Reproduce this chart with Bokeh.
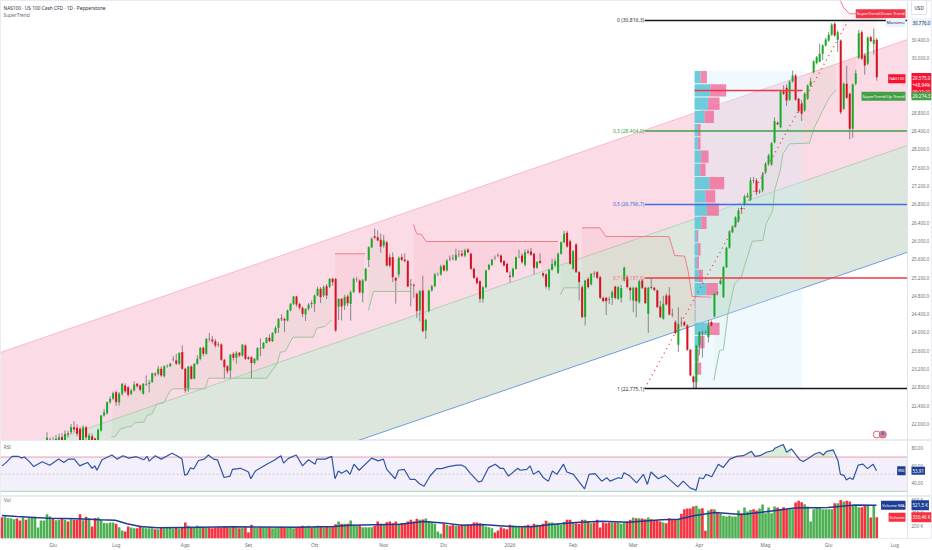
from bokeh.plotting import figure
from bokeh.layouts import column
from bokeh.models import Range1d, FixedTicker, Label, Span
from bokeh.embed import file_html
from bokeh.resources import INLINE
from bokeh.core.properties import value

FONT = "Noto Sans"
candle_start = 15
opens = [
21640,21600,21650,21568,21600,21712,21640,21790,21820,21930,
21915,21895,21640,21930,21640,21730,21680,21600,21858,22185,
22236,22477,22550,22695,22477,22659,22840,22800,22659,22732,
22877,22840,22659,22860,22875,22914,23100,23096,23205,23045,
23260,23263,23400,23387,23314,23570,23205,22746,23256,22990,
23314,23424,23664,23533,23860,23846,23810,23740,23737,23402,
23263,23169,23533,23445,23555,23497,23715,23460,23460,23330,
23402,23660,23655,23773,23882,23810,23990,24100,24310,24297,
24261,24480,24625,24786,24625,24540,24394,24516,24640,24625,
24807,24953,
24807,25010,25000,25170,25170,24565,24735,24590,
24786,24625,24880,25160,25135,24860,25135,25586,25863,26100,
26082,26023,25900,25973,25645,25645,25193,25266,25645,25590,
25560,25050,25040,24844,24480,24917,24043,24465,24917,25010,
25266,25270,25463,25354,25610,25620,25586,25700,25718,25680,
25812,25718,25390,25193,25120,24735,24989,25380,25477,25630,
25680,25680,25560,25499,25240,25222,25390,25645,25680,25480,
25770,25770,25718,25412,25560,25295,25266,24989,25368,25463,
25303,25718,25973,26177,25995,25390,25922,25317,24989,24334,
25170,25050,25290,25317,25208,24756,24756,24720,24756,25004,
24735,
24756,25135,25208,24975,24698,24975,24660,25135,24975,24407,
24990,24975,24917,24567,24300,24807,24807,24394,24225,23730,
24188,24225,24152,23620,23037,22914,23715,24010,24006,23897,
24225,24349,24870,25062,24770,25426,25849,26191,26315,26430,
26720,26796,26950,26898,27320,27320,27065,27100,27500,27684,
27670,28158,28580,28486,29272,29345,29082,29483,29614,29104,
28995,28850,29104,29396,29687,29890,29920,30088,30270,30380,
30503,30743,30393,30379,28886,29432,29214,28449,29432,30000,
30561,30052,29869,30452,30306,30394]
closes = [
21700,21660,21620,21675,21712,21600,21785,21770,21930,21880,
21785,21640,21930,21712,21750,21640,21600,21872,22185,22258,
22477,22550,22673,22477,22659,22877,22717,22640,22732,22863,
22826,22746,22877,22875,22900,23110,23075,23205,23060,23263,
23275,23314,23410,23314,23555,23205,22732,23256,22990,23314,
23424,23664,23533,23860,23850,23810,23715,23730,23402,23241,
23154,23510,23445,23555,23497,23730,23424,23424,23330,23424,
23657,23650,23773,23882,23810,23990,24100,24297,24290,24261,
24480,24625,24786,24610,24540,24407,24516,24610,24625,24807,
24953,24771,
24989,24807,25170,25100,24043,24735,24565,24771,
24640,24880,25170,25170,24880,25135,25390,25863,26045,26070,
26009,25878,26009,25463,25463,25208,25135,25630,25586,25560,
25004,25040,25020,24465,24902,24028,24275,24917,25010,25266,
25270,25441,25354,25572,25600,25610,25696,25690,25680,25791,
25754,25390,25193,25077,24735,24989,25354,25477,25586,25625,
25670,25536,25463,25317,25210,25390,25645,25650,25536,25750,
25740,25700,25412,25536,25520,25245,25004,25368,25499,25558,
25718,25973,26155,25878,25499,25776,25317,25100,24334,25135,
24989,25281,25280,25193,24756,24684,24684,24710,24880,24756,
24989,
24968,25412,24990,24920,24975,24683,25120,24975,24640,24975,
24970,24930,24553,24334,24625,24611,24392,24380,23985,24188,
24180,24152,23620,23060,22914,23715,24006,24000,24000,24152,
24152,24844,24860,25135,25426,25849,26213,26315,26512,26664,
26690,26971,26990,27320,27310,27065,27085,27451,27684,27866,
28136,28617,28550,29272,29214,29068,29483,29614,29082,28835,
28777,29214,29396,29483,29920,30015,30088,30270,30400,30503,
30722,30488,30561,28813,29432,29126,28449,29418,29665,30539,
29980,29833,30437,30364,30394,29575]
highs = [
21820,21700,21720,21760,21790,21800,21860,21850,22000,22060,
21990,21940,21970,21960,21800,21790,21700,21900,22200,22330,
22490,22600,22710,22730,22700,22895,22890,22830,22770,22930,
22900,22860,22895,23059,22960,23120,23130,23270,23260,23280,
23300,23340,23480,23530,23560,23720,23230,23270,23285,23330,
23500,23680,23690,23870,23990,23925,23860,23790,23760,23420,
23290,23530,23570,23590,23570,23750,23740,23480,23480,23440,
23680,23870,23790,23900,23960,24000,24140,24310,24400,24320,
24500,24640,24800,24800,24650,24570,24530,24640,24700,24830,
25000,24990,
25030,25060,25190,25200,25190,24745,24750,24820,
24830,24920,25200,25210,25160,25170,25410,25880,26080,26270,
26230,26160,26130,26000,25720,25750,25210,25660,25720,25730,
25590,25170,25070,24870,24930,25240,24300,24930,25040,25300,
25310,25480,25480,25600,25680,25700,25830,25800,25800,25830,
25840,25740,25410,25220,25140,25010,25370,25500,25610,25680,
25730,25710,25580,25520,25330,25420,25660,25810,25730,25810,
25820,25850,25740,25560,25730,25310,25290,25390,25610,25610,
25750,25990,26220,26220,26030,25800,25950,25340,25030,25150,
25210,25300,25340,25340,25240,24780,24780,24780,24920,25020,
25020,
25040,25440,25250,25000,25000,25000,25150,25170,25000,25000,
25180,25000,24940,24690,24800,24850,24990,24520,24270,24550,
24340,24250,24180,23640,23060,23720,24030,24040,24050,24270,
24260,24870,24900,25200,25450,25870,26230,26340,26540,26720,
26760,27010,27050,27390,27400,27370,27130,27510,27720,27900,
28160,28700,28610,29300,29400,29420,29510,29720,29650,29130,
29080,29250,29420,29570,29950,30040,30310,30300,30440,30560,
30760,30780,30600,30400,29460,29830,29240,29440,29740,30610,
30600,30100,30470,30480,30640,30430]
lows = [
21560,21500,21520,21500,21540,21540,21590,21700,21780,21820,
21730,21560,21540,21620,21600,21590,21540,21570,21830,22160,
22200,22440,22520,22400,22400,22620,22680,22600,22630,22710,
22790,22710,22640,22830,22690,22900,23040,23060,23030,23020,
23230,23250,23370,23290,23290,23180,22680,22700,22970,22980,
23290,23390,23480,23510,23800,23760,23670,23680,23380,22980,
23100,22990,23390,23320,23460,23470,23400,23400,22990,23300,
23380,23480,23640,23760,23790,23790,23970,23990,24250,24006,
24240,24460,24600,24560,24500,24340,24250,24480,24540,24450,
24790,24640,
24770,24730,24970,25020,24010,24270,24260,24490,
24570,24260,24860,25100,24850,24660,25110,25430,25840,26040,
25990,25740,25850,25440,25420,25100,24630,25200,25560,25530,
24990,24570,24750,24320,24240,24000,23860,24440,24890,24990,
25230,25240,25330,25330,25560,25570,25560,25640,25650,25640,
25730,25370,25170,25050,24650,24650,24960,25350,25450,25580,
25640,25510,25440,25300,25090,25190,25370,25620,25500,25440,
25710,25670,25270,25390,25500,25200,24960,24920,25350,25440,
25280,25700,25950,25850,25480,25370,25300,24700,24310,24150,
24960,25030,25200,25170,24730,24660,24380,24620,24600,24720,
24710,
24650,25110,24960,24700,24440,24330,24630,24950,24620,23990,
24940,24900,24530,24310,24280,24590,24370,24330,23960,23570,
24120,24130,23600,23040,22780,22775,23500,23450,23980,23780,
24130,24330,24820,25040,24750,25410,25830,26170,26290,26400,
26610,26770,26950,26870,27260,27000,27030,27060,27460,27650,
27640,28130,28530,28460,29190,28950,29060,29460,29060,28800,
28620,28820,29080,29370,29660,29860,29900,29950,30250,30350,
30480,30460,30130,28770,28860,29100,28220,28250,29400,29970,
29960,29630,29840,30340,30070,29500]

volumes = [
333,343,322,317,302,312,281,328,291,317,322,343,172,281,281,380,343,307,286,291,
312,291,265,302,291,291,380,286,338,317,187,322,328,291,244,239,250,250,229,177,
125,109,187,172,161,161,198,172,161,161,
161,146,146,172,161,177,172,156,166,156,172,250,198,182,172,198,182,172,166,172,
161,172,177,172,187,172,166,177,172,161,166,177,99,213,172,166,177,172,166,177,
161,166,172,182,172,166,172,161,172,182,
198,187,198,177,187,198,187,177,187,187,187,224,265,229,229,229,281,198,198,208,
177,177,177,177,198,265,229,213,255,265,239,265,229,239,229,265,291,265,307,291,
296,312,265,250,229,109,73,239,213,198,213,198,198,
213,213,213,213,250,250,239,218,187,177,161,94,125,177,156,146,213,208,198,198,
187,203,213,198,229,213,198,229,276,250,250,229,229,213,260,291,291,250,239,229,
291,291,265,239,250,291,172,250,239,250,250,250,250,229,250,265,291,328,317,317,
312,302,328,302,281,281,265,250,239,317,302,302,302,385,458,468,468,499,510,463,
473,120,437,458,458,406,385,354,343,354,343,343,437,395,484,421,447,458,437,468,
530,395,484,395,499,484,458,489,458,458,458,562,588,567,536,499,265,458,489,484,
458,458,458,458,551,551,603,577,588,577,510,510,489,489,515,515,328,515,330]
early_up = [0,1,1,1,1,0,0,1,0,1,1,1,1,1,1]

vol_ma_x = [0,5,10.6,16.1,25,32.8,37.7,41.6,46,51.6,60.4,77,99.2,110.3,115.8,132.4,140.2,146.8,
            153,159.6,169.6,176.3,181.8,190.7,199.5,208.4,219.4,225,230.5,237.2,246,252.7,263.7,274.8,283.7,290.9]
vol_ma_v = [359,343,328,317,307,291,286,229,187,166,172,182,177,187,208,224,265,244,
            208,218,187,182,213,250,270,255,291,302,359,406,374,411,478,484,525,521]

rsi_x = [0,1.2,3.4,5.6,6.4,7.5,8.9,10.6,13.4,15.9,18.9,20.6,22.2,24.1,25.9,27.2,28.5,30,30.9,31.6,
33.3,36.6,38.3,40.3,42.2,44.7,47.2,48.3,49,51,53,56.6,58.2,59.9,60.8,61.6,62.7,63.8,65.4,67.3,
68.7,70.4,71.7,73.9,75.9,76.7,79.3,80.9,82,82.8,84.3,88.1,90.3,92.8,93.7,95.3,97.9,100,102,104.2,
104.7,107.5,109.7,110.8,111.9,113,114.7,115.8,117.1,118.8,123,125.2,126.9,128,130.8,131.9,133.8,135.8,137.4,138.8,
140.4,142.4,144.6,146.3,148.5,151.3,153,154.1,155.8,158.5,159.6,161.9,164.1,165.7,166.8,168.5,171.6,172.4,174.6,175.7,
176.8,178.5,180.1,181.8,183.1,184.6,186.8,187.9,190.1,191.8,193.8,195.3,197.3,199.5,201.2,202.3,205,206.2,206.9,208.9,
211.1,213.4,214.7,215.9,218.3,220.6,224.8,226.6,228.9,230.9,232,233.3,234.2,236.1,238.3,239.9,242.1,244.4,246.6,247.7,
249.3,250.5,252.1,254.3,256.5,257.1,259.9,261,262.6,265.4,266.5,268.2,270.4,272,273.2,274.3,276.5,278.1,278.9,280.1,
280.9,282,283.1,284.8,286.4,287.9,289.8,290.9]
rsi_v = [59.7,62.9,70.8,70.8,68.8,70,65.6,58.9,64.5,60.5,67.6,63.7,67.6,67.6,59.7,61.7,63.7,56.9,59.7,54.6,
66.8,72.4,67.6,71.6,68.8,70.4,66.8,70.8,65.2,71.6,67.6,74.4,71.6,67.6,49,49.8,57.3,56.1,66,67.6,
72.4,67.6,66.8,46.2,47.8,55.7,56.9,54.6,52.6,44.7,53.8,61.7,65.6,71.6,62.9,68.4,72.4,59.7,66.8,61.7,
67.6,67.6,70.8,44.7,53.8,51,54.6,49.8,61.7,54.6,68.8,65.6,67.6,55.7,44.7,54.6,55.7,43.9,43.9,39.2,
36,47.9,56.5,56.5,58.9,60.5,60.5,58.5,51,41.1,41.9,57.7,61.7,56.9,56.9,47.8,56.9,54.6,55.7,59.7,
49.8,53.8,45.9,41.9,53.8,49.8,61.7,52.6,49.8,41.9,32.8,49.8,50.6,41.9,45.9,41.9,45.9,45.1,51.8,47.8,
39.9,49.8,38.1,52.6,44.7,48.6,35.2,41.9,34,31.3,45.9,44.7,49.8,47,61.7,57.7,67.6,70.8,71.6,73.6,
76.7,70.8,71.6,75.6,77.6,80.3,84.6,75.6,79.5,66.8,64.9,68.4,73.6,75.6,72.4,76.7,78.3,65.6,49.8,48.6,
43.2,45.9,43.9,60.5,61.7,56.5,61.7,53.9]

# SuperTrend, as breakpoints
st_up = [
 ([36.4,37.7,39.4,41.4,43,44.4,47.2,48.3,49.9,51.6,53.8,56,57.1,67.6,68.7,88.1,91.5,92.6,94.2,96.8,103.6,104.7,107.5,109.7],
  [21712,21727,21894,21930,21945,22033,22040,22185,22222,22440,22462,22732,22768,22768,23001,23001,23314,23569,23584,23897,23897,24094,24130,24276]),
 ([121.9,123.6,135.8],[24480,24895,24895]),
 ([185.8,186.9,192.2],[24829,24975,24975]),
 ([236.8,238.7,240,241.5,243.7,245.9,247.6,249.6,253.1,254.2,256.4,257,258.9,259.8,262,268.6,270.3,273,275.3,277.5],
  [22950,23606,23620,24407,25062,25208,25572,25994,26009,26373,26664,27102,27539,27903,28121,28136,28486,28850,29141,29301]),
]
st_down = [
 ([110.8,120.8],[25718,25718]),
 ([136.9,138,139.6,141.1,185],[26359,26155,26140,25987,25987]),
 ([192.9,198.9,200.9,221.9,223.8,227.1,228.2,229.6,236],[26286,26286,26096,26096,25681,25667,25354,24786,24771]),
 ([278.9,279.9,281.9,291],[31253,31107,30962,30962]),
]

fib_prices = [30816.3,28404.0,26796.7,25187.5,22775.1]
fib_labels = ["0 (30.816,3)","0,3 (28.404,0)","0,5 (26.796,7)","0,7 (25.187,5)","1 (22.775,1)"]
fib_colors = ["#131722","#43a047","#3f6fdc","#f23645","#131722"]
fib_text_colors = ["#333333","#43a047","#3f6fdc","#ee7a85","#333333"]

# volume profile rows, top to bottom
vp_up = [18,47,40,30,10,10,20,17,45,33,37,20,7,10,7,13,35,1,2,40,13,5,7,2]
vp_down = [19,48,35,28,8,8,22,16,44,29,36,16,4,8,6,12,35,2,1,35,17,8,13,5]

channel_x = [-0.465,301.2]
channel_upper = [23562,30401]
channel_mid = [21246,28085]
channel_lower = [18960,25753]

price_ticks = [22000,22400,22800,23200,23600,24000,24400,24800,25200,25600,26000,26400,26800,27200,27600,28000,28400,28800,29200,29600,30000,30400]
rsi_ticks = [40,60,80]
vol_ticks = [200,400,600]
month_pos = [17,38,61,82,104,127,147,169,190,210,232,254,275,297]
month_lab = ["Giu","Lug","Ago","Set","Ott","Nov","Dic","2026","Feb","Mar","Apr","Mag","Giu","Lug"]

assert len(opens)==len(closes)==len(highs)==len(lows)==277, (len(opens),len(closes),len(highs),len(lows))
assert len(volumes)==292, len(volumes)
assert len(rsi_x)==len(rsi_v), (len(rsi_x),len(rsi_v))

N = 292
GREEN="#16ab26"; RED="#d8101f"
xr = Range1d(-0.465,309.2)
AXIS_X = 301.2

def base(h, yr, bottom=0):
    f = figure(width=932,height=h,x_range=xr,y_range=yr,toolbar_location=None,output_backend="svg",
               y_axis_location="right",min_border=0,min_border_right=0,min_border_bottom=bottom,
               min_border_left=0,min_border_top=0)
    f.grid.visible=False
    f.outline_line_color="#e9ebf0"
    f.yaxis.axis_line_color=None
    f.yaxis.major_tick_line_color=None
    f.yaxis.minor_tick_line_color=None
    f.yaxis.major_tick_out=0
    f.yaxis.major_tick_in=0
    f.yaxis.minor_tick_out=0
    f.yaxis.minor_tick_in=0
    f.yaxis.major_label_text_font=FONT
    f.yaxis.major_label_text_font_size="4.5px"
    f.yaxis.major_label_text_color="#6a6d78"
    f.yaxis.major_label_standoff=-20
    f.add_layout(Span(location=AXIS_X,dimension="height",line_color="#e0e3eb",line_width=1))
    return f

def tag(f,x,y,text,bg,color="white",size="4.2px",border=None,pad=(1,2),align="left"):
    f.add_layout(Label(x=x,y=y,x_units="screen",y_units="data",text=text,text_font=FONT,
        text_font_size=size,text_color=color,text_baseline="middle",text_align=align,
        background_fill_color=bg,border_line_color=border,padding=pad))

# ---------- main pane
p = base(440,Range1d(21639,31253))
p.xaxis.visible=False
p.yaxis.ticker=FixedTicker(ticks=price_ticks)
p.yaxis.major_label_overrides={t:f"{t:,.1f}".replace(",","X").replace(".",",").replace("X",".") for t in price_ticks}

p.varea(channel_x,channel_mid,channel_upper,fill_color="#fbdbe5")
p.varea(channel_x,channel_lower,channel_mid,fill_color="#dde6dc")
p.line(channel_x,channel_upper,line_color="#f9b8cc",line_width=1)
p.line(channel_x,channel_mid,line_color="#bccbbc",line_width=1)
p.line(channel_x,channel_lower,line_color="#6f9de0",line_width=1)

def st_fill(seg,color):
    xs,ys=seg
    ids=[i for i in range(int(xs[0])+1,min(int(xs[-1]),291)+1)]
    px=list(xs)+[i for i in reversed(ids)]
    py=list(ys)+[closes[i-candle_start] for i in reversed(ids)]
    p.patch(px,py,fill_color=color,fill_alpha=0.05,line_color=None)
for s in st_up:
    st_fill(s,"#4caf50")
for s in st_down:
    st_fill(s,"#f23645")

# date-range box and volume profile
vx0=230.4; vx1=266.3; vtop=29723; vstep=(29723-22775)/24
p.quad(left=[vx0],right=[vx1],top=[vtop],bottom=[22775],fill_color="#c9eefb",fill_alpha=0.28,line_color=None)
vy=[vtop-(k+0.5)*vstep for k in range(24)]
vr1=[vx0+u/9.03 for u in vp_up]
vr2=[r+d/9.03 for r,d in zip(vr1,vp_down)]
p.hbar(y=vy,left=vx0,right=vr1,height=vstep*0.93,fill_color="#5cc8d8",fill_alpha=0.9,line_color=None)
p.hbar(y=vy,left=vr1,right=vr2,height=vstep*0.93,fill_color="#f06a9a",fill_alpha=0.8,line_color=None)

idx=list(range(candle_start,N))
up=[c>=o for o,c in zip(opens,closes)]
p.segment(idx,highs,idx,lows,line_color="#777777",line_alpha=0.85,line_width=1)
top=[max(o,c) for o,c in zip(opens,closes)]
bot=[min(o,c) for o,c in zip(opens,closes)]
p.vbar(x=idx,top=top,bottom=bot,width=0.66,fill_color=[GREEN if u else RED for u in up],line_color=None)

for s in st_up:
    p.line(s[0],s[1],line_color="#9bc79f",line_width=1)
for s in st_down:
    p.line(s[0],s[1],line_color="#f27d8a",line_width=1)

p.line([213.8,281.5],[22775.1,30816.3],line_color="#f23645",line_width=1.3,line_dash="1 4")
p.line([vx0,vx1],[29286,29286],line_color="#f23645",line_width=1.6)

for lv,lb,c,tc in zip(fib_prices,fib_labels,fib_colors,fib_text_colors):
    p.line([213.8,AXIS_X],[lv,lv],line_color=c,line_width=1.5)
    p.text([213.6],[lv],text=[lb],text_align="right",text_baseline="middle",text_color=tc,
           text_font=value(FONT),text_font_size="5px")

p.scatter([291],[21770],size=7,fill_color=None,line_color="#e06070",line_width=1)
p.scatter([293],[21770],size=7,fill_color="#e8808f",line_color="#e06070",line_width=1)
p.scatter([293],[21790],size=3,fill_color="#3f6fdc",line_color=None)

tag(p,3,31090,"NAS100 · US 100 Cash CFD · 1D · Pepperstone",None,"#2a2e39","4.8px",pad=0)
tag(p,3,30935,"SuperTrend",None,"#6a6d78","4.8px",pad=0)
tag(p,911,31100,"USD","white","#2a2e39","4.6px",border="#e0e3eb",pad=(3,4))
tag(p,905,30962,"SuperTrend:Down Trend","#f23645",align="right")
tag(p,905,30772,"Massimo","#e8f1fd","#2a2e39",align="right")
tag(p,911,30772,"30.776,0","#e8f1fd","#2a2e39",size="4.5px")
tag(p,905,29545,"NAS100","#f7132f",align="right")
tag(p,911,29400,"29.575,0\n+48,94%\n09:21:21","#f7132f",size="4.5px")
tag(p,905,29160,"SuperTrend:Up Trend","#43a047",align="right")
tag(p,911,29160,"29.274,3","#43a047",size="4.5px")

# ---------- RSI pane
r = base(56,Range1d(24,89.3))
r.xaxis.visible=False
r.yaxis.ticker=FixedTicker(ticks=rsi_ticks)
r.yaxis.major_label_overrides={t:f"{t},00" for t in rsi_ticks}
r.quad(left=[-0.465],right=[AXIS_X],top=[70],bottom=[30],fill_color="#f4f0fb",line_color=None)
run_x=[];run_y=[]
for a,b in zip(rsi_x+[None],rsi_v+[0]):
    if b>70 and a is not None:
        run_x.append(a);run_y.append(b)
    else:
        if len(run_x)>1 and run_x[0]>240:
            r.varea(run_x,[70]*len(run_x),run_y,fill_color="#cfe8d2",fill_alpha=0.8)
        run_x=[];run_y=[]
r.line([-0.465,AXIS_X],[70,70],line_color="#e7a0a8",line_width=1)
r.line([-0.465,AXIS_X],[30,30],line_color="#a8d8ae",line_width=1)
r.line([-0.465,AXIS_X],[50,50],line_color="#c8c8c8",line_width=1,line_dash="2 2")
r.line(rsi_x,rsi_v,line_color="#2f55a4",line_width=1.2)
r.text([0.6],[82],text=["RSI"],text_baseline="middle",text_color="#6a6d78",text_font=value(FONT),text_font_size="4.8px")
tag(r,905,rsi_v[-1],"RSI","#1e3f94",align="right")
tag(r,911,rsi_v[-1],"53,91","#1e3f94",size="4.5px")

# ---------- volume pane
v = base(54,Range1d(0,656),bottom=12)
v.yaxis.ticker=FixedTicker(ticks=vol_ticks)
v.yaxis.major_label_overrides={t:f"{t} K" for t in vol_ticks}
v.xaxis.ticker=FixedTicker(ticks=month_pos)
v.xaxis.major_label_overrides=dict(zip(month_pos,month_lab))
v.xaxis.major_label_text_font=FONT
v.xaxis.major_label_text_font_size="4.8px"
v.xaxis.major_label_text_color="#6a6d78"
v.xaxis.axis_line_color=None
v.xaxis.major_tick_line_color=None
v.xaxis.minor_tick_line_color=None
v.xaxis.major_tick_out=0
v.xaxis.major_tick_in=0
v.xaxis.minor_tick_out=0
v.xaxis.minor_tick_in=0
v.xaxis.major_label_standoff=3
vcolors=["#4caf50" if u else "#f5303f" for u in list(map(bool,early_up))+up]
v.vbar(x=list(range(N)),top=volumes,bottom=0,width=0.86,fill_color=vcolors,line_color=None)
v.line(vol_ma_x,vol_ma_v,line_color="#1f3c8f",line_width=1.5)
v.text([0.6],[605],text=["Vol"],text_baseline="middle",text_color="#6a6d78",text_font=value(FONT),text_font_size="4.8px")
tag(v,905,521,"Volume MA","#1e3f94",align="right")
tag(v,911,521,"521,5 K","#1e3f94",size="4.5px")
tag(v,905,330,"Volume","#f5303f",align="right")
tag(v,911,330,"330,46 K","#f5303f",size="4.5px")

page = column(p,r,v,spacing=0)
open("out.html","w").write(file_html(page,INLINE))
